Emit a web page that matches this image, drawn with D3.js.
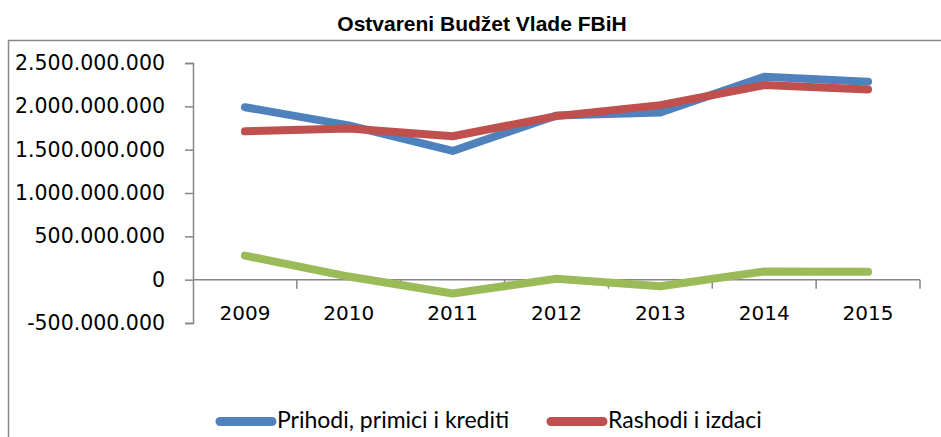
<!DOCTYPE html>
<html>
<head>
<meta charset="utf-8">
<script src="https://cdn.jsdelivr.net/npm/d3@7"></script>
<style>
  body { margin: 0; background: #fff; }
  svg { display: block; }
</style>
</head>
<body>
<svg id="chart"></svg>
<script>
// Data
const years = ["2009", "2010", "2011", "2012", "2013", "2014", "2015"];
const prihodi = [1990000000, 1780000000, 1485000000, 1895000000, 1930000000, 2340000000, 2285000000];
const rashodi = [1712000000, 1744000000, 1655000000, 1887000000, 2014000000, 2245000000, 2195000000];
const razlika = [278000000, 36000000, -160000000, 10000000, -75000000, 95000000, 90000000];
const yTicks = [-500000000, 0, 500000000, 1000000000, 1500000000, 2000000000, 2500000000];
const legendNames = ["Prihodi, primici i krediti", "Rashodi i izdaci"];

const width = 941;
const height = 437;
const svg = d3.select("#chart")
    .attr("width", width)
    .attr("height", height);

// Outer chart frame (cut off at right and bottom)
svg.append("rect")
    .attr("x", 8.5)
    .attr("y", 40.5)
    .attr("width", 960)
    .attr("height", 420)
    .attr("fill", "none")
    .attr("stroke", "#868686")
    .attr("stroke-width", 1.5);

// Title
svg.append("text")
    .attr("x", 482)
    .attr("y", 31)
    .attr("text-anchor", "middle")
    .style("font-family", "Liberation Sans, Arial, sans-serif")
    .style("font-weight", "bold")
    .style("font-size", "21px")
    .text("Ostvareni Budžet Vlade FBiH");

// Scales
const x = d3.scaleBand()
    .domain(years)
    .range([193, 920]);

const y = d3.scaleLinear()
    .domain([-500000000, 2500000000])
    .range([323, 63]);

const fmt = v => d3.format(",")(v).replace(/,/g, ".").replace("\u2212", "-");

// Y axis
const yAxis = svg.append("g")
    .attr("transform", "translate(193,0)")
    .call(d3.axisLeft(y).tickValues(yTicks).tickSize(8).tickPadding(20).tickFormat(fmt));
yAxis.select(".domain").attr("stroke", "#868686").attr("stroke-width", 1.5);
yAxis.selectAll(".tick line").attr("stroke", "#868686").attr("stroke-width", 1.5);
yAxis.selectAll(".tick text")
    .style("font-family", "DejaVu Sans, Verdana, sans-serif")
    .style("font-size", "20.5px")
    .attr("fill", "#000");

// X axis on zero line, ticks between categories
const xAxis = svg.append("g")
    .attr("transform", `translate(0,${y(0)})`);
xAxis.append("line")
    .attr("x1", 193).attr("x2", 920)
    .attr("stroke", "#868686").attr("stroke-width", 1.5);
const bounds = years.map(d => x(d)).concat([x(years[years.length - 1]) + x.bandwidth()]);
xAxis.selectAll(".xt")
    .data(bounds.slice(1))
    .enter()
    .append("line")
    .attr("x1", d => d).attr("x2", d => d)
    .attr("y1", 0).attr("y2", 9)
    .attr("stroke", "#868686").attr("stroke-width", 1.5);

svg.selectAll(".xlabel")
    .data(years)
    .enter()
    .append("text")
    .attr("x", d => x(d) + x.bandwidth() / 2)
    .attr("y", 320)
    .attr("text-anchor", "middle")
    .style("font-family", "DejaVu Sans, Verdana, sans-serif")
    .style("font-size", "20px")
    .text(d => d);

// Lines
const line = d3.line()
    .x((d, i) => x(years[i]) + x.bandwidth() / 2)
    .y(d => y(d));

const series = [
    { values: razlika, color: "#9BBB59" },
    { values: prihodi, color: "#4F81BD" },
    { values: rashodi, color: "#C0504D" }
];

series.forEach(s => {
    svg.append("path")
        .datum(s.values)
        .attr("d", line)
        .attr("fill", "none")
        .attr("stroke", s.color)
        .attr("stroke-width", 8)
        .attr("stroke-linecap", "round")
        .attr("stroke-linejoin", "round");
});

// Legend
const legendItems = [
    { name: legendNames[0], color: "#4F81BD", x: 220 },
    { name: legendNames[1], color: "#C0504D", x: 551 }
];
legendItems.forEach(item => {
    svg.append("line")
        .attr("x1", item.x).attr("x2", item.x + 52)
        .attr("y1", 421.5).attr("y2", 421.5)
        .attr("stroke", item.color)
        .attr("stroke-width", 9)
        .attr("stroke-linecap", "round");
    svg.append("text")
        .attr("x", item.x + 57)
        .attr("y", 428)
        .style("font-family", "Lato, Liberation Sans, sans-serif")
        .style("font-size", "23px")
        .text(item.name);
});
</script>
</body>
</html>
